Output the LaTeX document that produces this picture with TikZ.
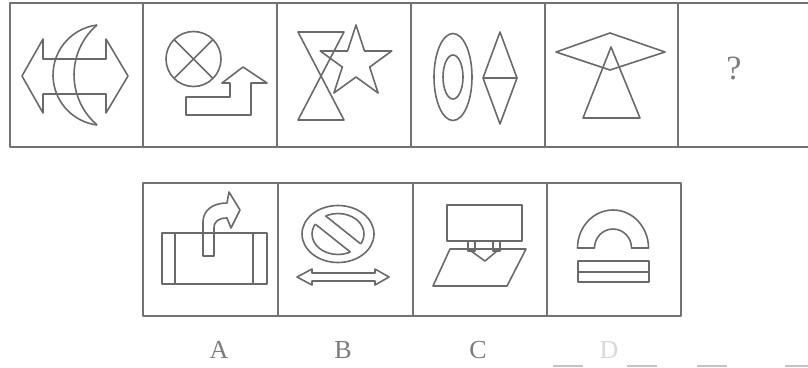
\documentclass[tikz,border=0pt]{standalone}
\usepackage{fontspec}
\setmainfont{Liberation Serif}
\definecolor{ln}{HTML}{6A6A6A}
\definecolor{fr}{HTML}{727272}
\definecolor{lab}{HTML}{7C7C7C}
\definecolor{labD}{HTML}{D8D8D8}
\definecolor{art}{HTML}{C4C4C4}
\begin{document}
\begin{tikzpicture}[x=1pt,y=-1pt,line join=round,
  fig/.style={draw=ln,line width=1.6pt},
  framebox/.style={draw=fr,line width=1.4pt},
  lbl/.style={font=\fontsize{26}{26}\selectfont,text=lab,inner sep=0pt},
  artline/.style={draw=art,line width=2pt}]
\useasboundingbox (0,0) rectangle (808,367);

% ---- top row frame
\draw[framebox] (10,3) rectangle (812,147);
\foreach \x in {143,277,411,545,678} \draw[framebox] (\x,3) -- (\x,147);

% ---- bottom row frame
\draw[framebox] (143,183) rectangle (681,316);
\foreach \x in {278,413,547} \draw[framebox] (\x,183) -- (\x,316);

% ---- cell 1: double arrow + crescent
\draw[fig] (22,76) -- (43,39) -- (43,59) -- (106,59) -- (106,39) -- (128,76)
  -- (106,113) -- (106,94) -- (43,94) -- (43,113) -- cycle;
\draw[fig] (97,25) arc[start angle=262.7,end angle=97.3,radius=50.4];
\draw[fig] (97,25) arc[start angle=229.4,end angle=130.6,radius=65.8];

% ---- cell 2: circle with cross + stair arrow
\draw[fig] (193.5,59) circle[radius=27.5];
\draw[fig] (174.1,39.6) -- (212.9,78.4);
\draw[fig] (212.9,39.6) -- (174.1,78.4);
\draw[fig] (186,115) -- (186,97) -- (230,97) -- (230,83) -- (222,83) -- (243,67)
  -- (267,83) -- (251,83) -- (251,115) -- cycle;

% ---- cell 3: hourglass + star
\draw[fig] (298,32) -- (344,32) -- (298,120) -- (344,120) -- cycle;
\draw[fig,shift={(356,62.6)}] (-90:37.6) -- (-54:14.4) -- (-18:37.6) -- (18:14.4)
  -- (54:37.6) -- (90:14.4) -- (126:37.6) -- (162:14.4) -- (198:37.6) -- (234:14.4) -- cycle;

% ---- cell 4: ellipses + split diamond
\draw[fig] (453,77) ellipse[x radius=19,y radius=43.5];
\draw[fig] (453,77) ellipse[x radius=10,y radius=22];
\draw[fig] (500,32) -- (517,78) -- (500,124) -- (483,78) -- cycle;
\draw[fig] (483,78) -- (517,78);

% ---- cell 5: kite + triangle
\draw[fig] (556,52) -- (610,33) -- (665,52) -- (610,70) -- cycle;
\draw[fig] (611,47) -- (640,118) -- (583,118) -- cycle;

% ---- cell 6
\node[lbl,font=\fontsize{34}{34}\selectfont] (q) at (734,68) {?};

% ---- option A
\draw[fig] (162,233) rectangle (267,284);
\draw[fig] (175,233) -- (175,284);
\draw[fig] (253,233) -- (253,284);
\draw[fig] (203,256) -- (203,222) .. controls (203,210) and (213,203) .. (227,203)
  -- (229,192) -- (240,210) -- (231,228) -- (227,218)
  .. controls (219,218) and (214,221) .. (214,228) -- (214,256) -- cycle;

% ---- option B
\draw[fig] (338,234) ellipse[x radius=36,y radius=28.5];
\draw[fig] (338,234) ellipse[x radius=26,y radius=20.5];
\begin{scope}
  \clip (338,234) ellipse[x radius=27.4,y radius=21.9];
  \fill[white] (306.8,201) -- (377.2,257) -- (369.2,267) -- (298.8,211) -- cycle;
\end{scope}
\begin{scope}
  \clip (338,234) ellipse[x radius=26,y radius=20.5];
  \draw[fig] (306.8,201) -- (377.2,257);
  \draw[fig] (298.8,211) -- (369.2,267);
\end{scope}
\draw[fig] (297,277) -- (312,269) -- (312,273) -- (375,273) -- (375,269) -- (389,277)
  -- (375,285) -- (375,281) -- (312,281) -- (312,285) -- cycle;

% ---- option C
\draw[fig] (447,205) rectangle (522,241);
\draw[fig] (450,249) -- (526,249) -- (507,286) -- (433,286) -- cycle;
\draw[fig] (468,241) -- (468,251) -- (475,251) -- (475,241);
\draw[fig] (493,241) -- (493,251) -- (500,251) -- (500,241);
\draw[fig] (471,251) -- (485,261) -- (497,251);

% ---- option D
\draw[fig] (577.5,248) arc[start angle=180,end angle=360,x radius=35.5,y radius=38]
  -- (631.5,248) arc[start angle=0,end angle=-180,x radius=18.5,y radius=19] -- cycle;
\draw[fig] (578,261) rectangle (649,282);
\draw[fig] (578,272) -- (649,272);

% ---- labels
\node[lbl] (la) at (219,350) {A};
\node[lbl] (lb) at (343,350) {B};
\node[lbl] (lc) at (478,350) {C};
\node[lbl,text=labD] (ld) at (609,350) {D};

% ---- scan marks at bottom edge
\draw[artline] (553,365.5) -- (583,365.5);
\draw[artline] (627,365.5) -- (657,365.5);
\draw[artline] (697,365.5) -- (727,365.5);
\draw[artline] (785,365.5) -- (808,365.5);
\end{tikzpicture}
\end{document}
